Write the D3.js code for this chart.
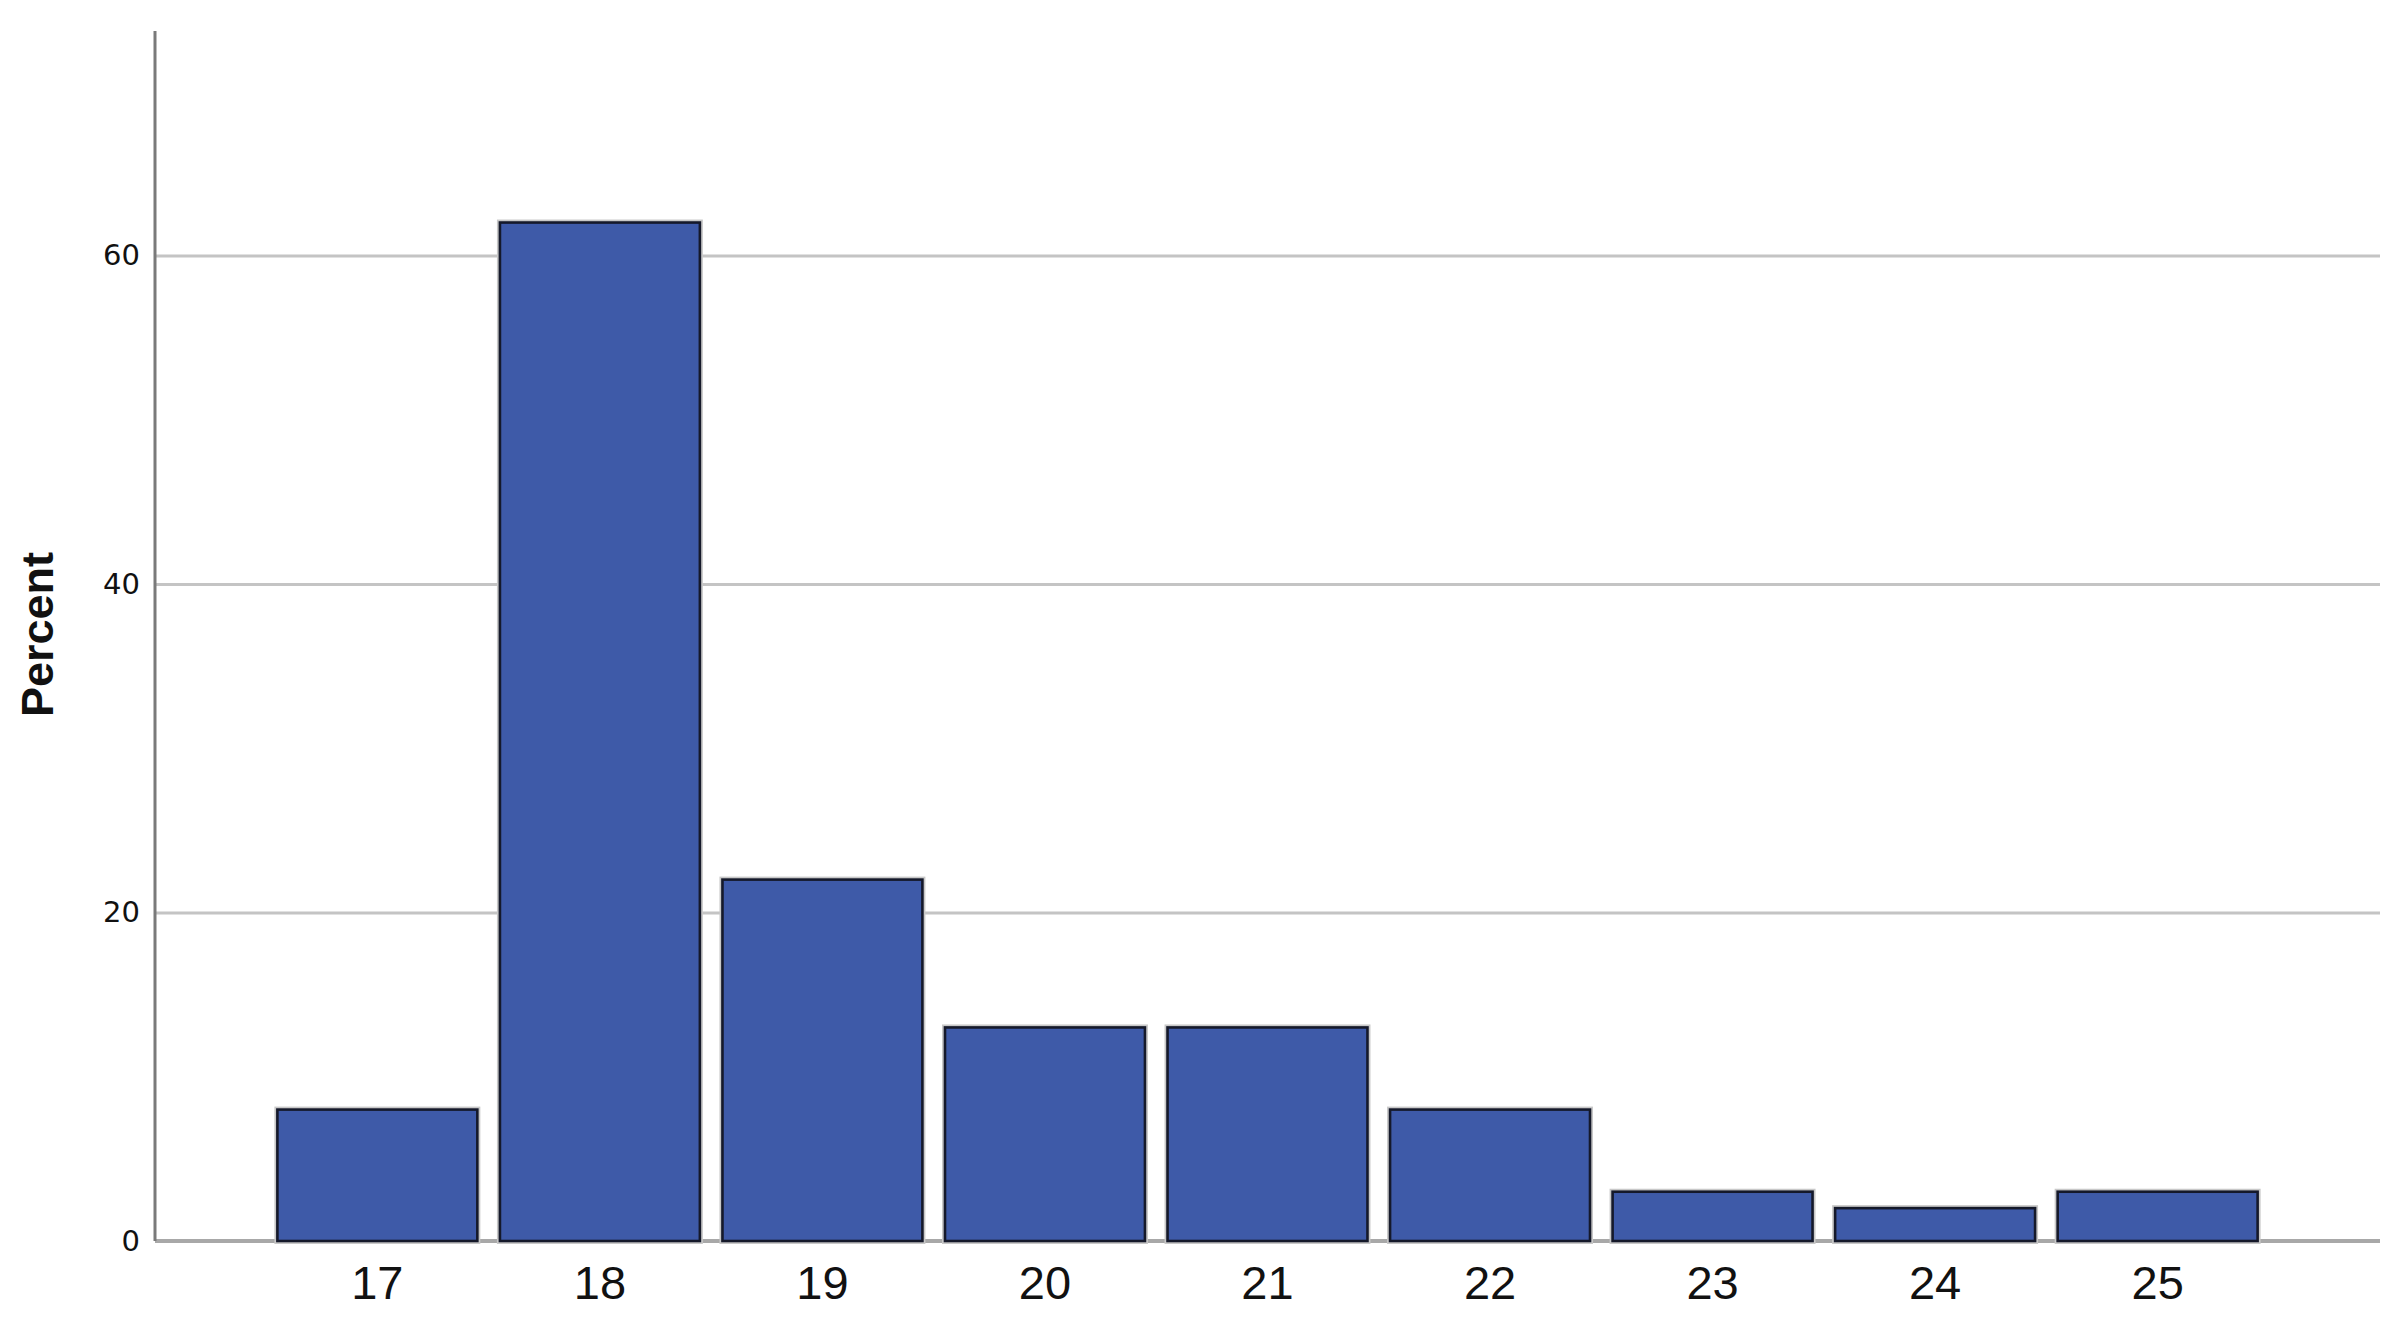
<!DOCTYPE html>
<html>
<head>
<meta charset="utf-8">
<script src="https://cdn.jsdelivr.net/npm/d3@7"></script>
<style>
  html, body { margin: 0; padding: 0; background: #fff; }
  svg { display: block; }
</style>
</head>
<body>
<script>
// ---- data ----
const categories = ["17", "18", "19", "20", "21", "22", "23", "24", "25"];
const percents   = [8, 62, 22, 13, 13, 8, 3, 2, 3];
const yTicks     = [0, 20, 40, 60];
const yLabel     = "Percent";

(function () {
// ---- layout ----
const W = 2404, H = 1330;
const mLeft = 155, mRight = 2380, mTop = 31, mBottom = 1241;
const yMax = 73.66;

const svg = d3.select("body").append("svg")
  .attr("width", W).attr("height", H);

const x = d3.scaleBand()
  .domain(categories)
  .range([mLeft, mRight])
  .paddingInner(0.1015)
  .paddingOuter(0.55);

const y = d3.scaleLinear()
  .domain([0, yMax])
  .range([mBottom, mTop]);

// gridlines (non-zero ticks)
const grid = svg.append("g")
  .attr("transform", `translate(${mLeft},0)`)
  .call(d3.axisLeft(y).tickValues(yTicks.filter(d => d > 0)).tickSize(-(mRight - mLeft)).tickFormat(""));
grid.select(".domain").remove();
grid.selectAll(".tick line").attr("stroke", "#c4c4c4").attr("stroke-width", 3);

// baseline
svg.append("line")
  .attr("x1", mLeft).attr("x2", mRight)
  .attr("y1", y(0)).attr("y2", y(0))
  .attr("stroke", "#a8a8a8").attr("stroke-width", 4);

// y axis line
svg.append("line")
  .attr("x1", mLeft).attr("x2", mLeft)
  .attr("y1", mTop).attr("y2", mBottom)
  .attr("stroke", "#7a7a7a").attr("stroke-width", 3);

// y tick labels
const yAxis = svg.append("g")
  .attr("transform", `translate(${mLeft},0)`)
  .call(d3.axisLeft(y).tickValues(yTicks).tickSize(0).tickPadding(15).tickFormat(d3.format("d")));
yAxis.select(".domain").remove();
yAxis.selectAll("text")
  .attr("font-family", "'DejaVu Sans', sans-serif")
  .attr("font-size", 29)
  .attr("fill", "#111");

// bars: light halo then bar
const bars = svg.append("g");
bars.selectAll("rect.halo")
  .data(categories)
  .join("rect")
  .attr("class", "halo")
  .attr("x", d => x(d))
  .attr("width", x.bandwidth())
  .attr("y", (d, i) => y(percents[i]))
  .attr("height", (d, i) => y(0) - y(percents[i]))
  .attr("fill", "none")
  .attr("stroke", "#c8c8c8")
  .attr("stroke-width", 6);
bars.selectAll("rect.bar")
  .data(categories)
  .join("rect")
  .attr("class", "bar")
  .attr("x", d => x(d))
  .attr("width", x.bandwidth())
  .attr("y", (d, i) => y(percents[i]))
  .attr("height", (d, i) => y(0) - y(percents[i]))
  .attr("fill", "#3e5aa8")
  .attr("stroke", "#15192a")
  .attr("stroke-width", 2.6);

// x tick labels
const xAxis = svg.append("g")
  .attr("transform", `translate(0,${mBottom})`)
  .call(d3.axisBottom(x).tickSize(0).tickPadding(25));
xAxis.select(".domain").remove();
xAxis.selectAll("text")
  .attr("font-family", "'Liberation Sans', Arial, sans-serif")
  .attr("font-size", 47)
  .attr("fill", "#111");

// y axis title
svg.append("text")
  .attr("transform", `translate(53,634.5) rotate(-90)`)
  .attr("text-anchor", "middle")
  .attr("font-family", "'Liberation Sans', Arial, sans-serif")
  .attr("font-weight", "bold")
  .attr("font-size", 45)
  .attr("fill", "#111")
  .text(yLabel);
})();
</script>
</body>
</html>
